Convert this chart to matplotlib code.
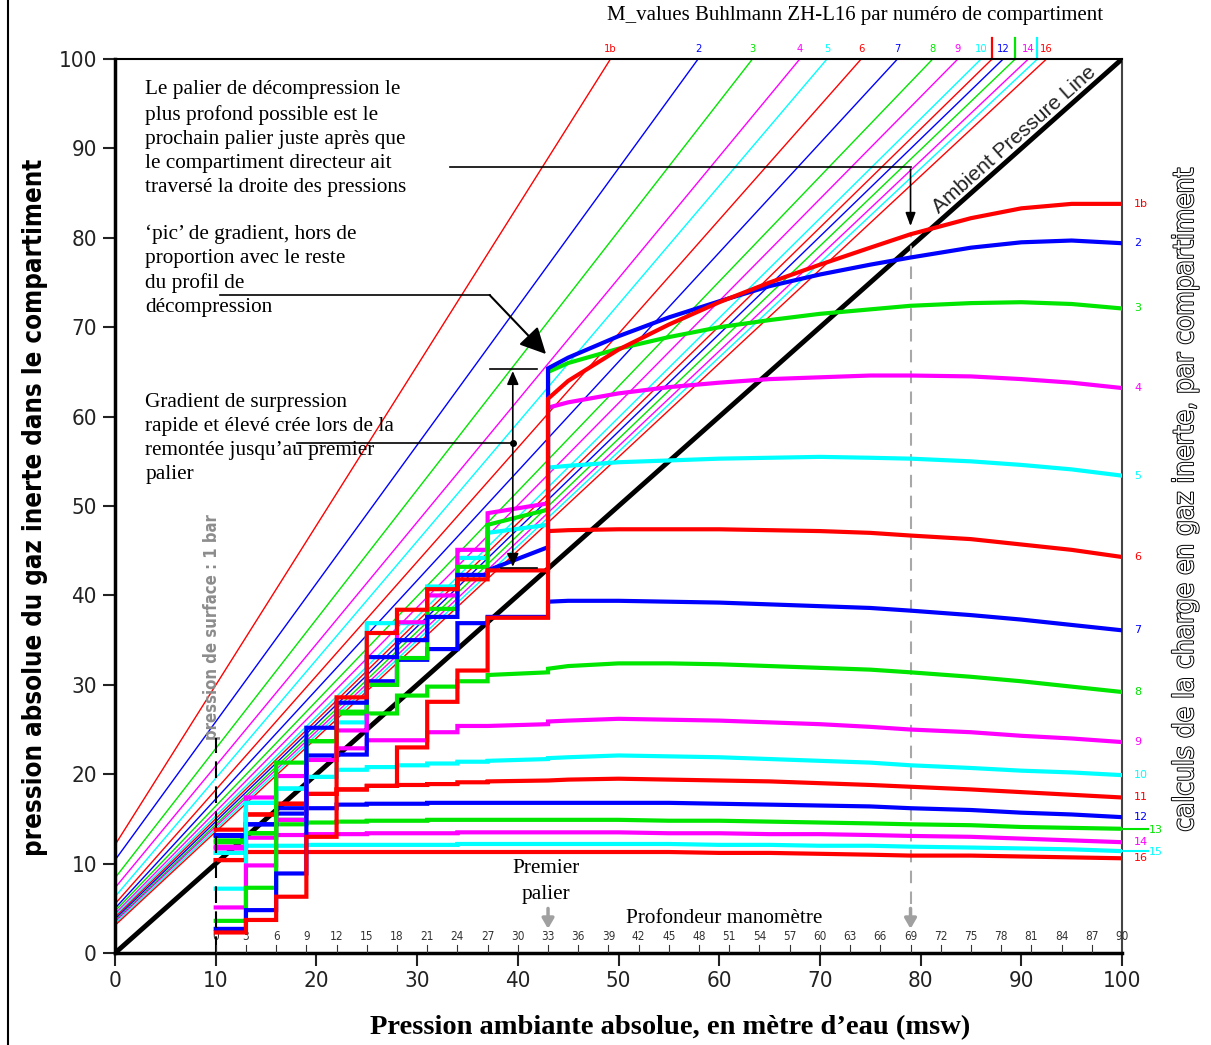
import matplotlib
matplotlib.use("Agg")
import matplotlib.pyplot as plt
from matplotlib import patheffects as pe
from matplotlib.lines import Line2D

plt.rcParams['font.family'] = ['Liberation Serif', 'DejaVu Serif']
NARROW = ['DejaVu Sans']

# Compartments (Buhlmann ZH-L16)
compartments = ['1b', '2', '3', '4', '5', '6', '7', '8', '9', '10', '11', '12', '13', '14', '15', '16']
RED, BLUE, GREEN, MAG, CYAN = '#ff0000', '#0000ff', '#00e600', '#ff00ff', '#00ffff'
colours = [RED, BLUE, GREEN, MAG, CYAN] * 3 + [RED]

# M-value lines: value at ambient 0 and ambient where they reach 100
m_intercept = [12.1, 10.4, 8.4, 7.3, 6.3, 5.5, 5.0, 4.7, 4.4, 4.2, 4.0, 3.8, 3.6, 3.5, 3.3, 3.1]
m_top_x = [49.2, 57.9, 63.3, 68.0, 70.7, 74.1, 77.7, 81.2, 83.7, 86.0, 87.1, 88.2, 89.4, 90.7, 91.6, 92.5]
# at the top these get a short coloured mark instead of a number
top_mark_only = ['11', '13', '15']

# decompression stops (ambient pressure, msw): segment boundaries
stop_x = [10, 13, 16, 19, 22, 25, 28, 31, 34, 37, 43]
# tissue level on each segment, from [10,13] to [37,43]
stair_levels = {
    '1b': [2.3, 3.7, 6.3, 13.0, 28.6, 35.8, 38.4, 40.7, 41.8, 42.8],
    '2':  [2.7, 4.8, 8.9, 25.2, 28.0, 33.1, 35.0, 37.6, 42.3, 42.8],
    '3':  [3.6, 7.3, 21.3, 23.7, 27.0, 30.0, 33.0, 38.5, 43.2, 47.9],
    '4':  [5.1, 9.8, 14.9, 21.6, 24.9, 30.0, 37.0, 40.0, 45.1, 49.2],
    '5':  [7.2, 16.8, 18.4, 19.7, 25.8, 36.9, 36.9, 41.0, 44.2, 47.0],
    '6':  [10.4, 15.5, 16.7, 17.8, 18.3, 18.7, 23.0, 28.1, 31.6, 37.5],
    '7':  [13.1, 14.4, 16.2, 22.1, 22.2, 30.4, 32.8, 34.0, 36.9, 37.6],
    '8':  [12.4, 13.4, 14.9, 23.7, 26.8, 26.8, 28.8, 29.8, 30.4, 31.1],
    '9':  [11.7, 17.4, 19.8, 21.6, 22.9, 23.8, 23.8, 24.7, 25.4, 25.4],
    '10': [11.2, 16.8, 18.4, 19.7, 20.5, 20.8, 21.0, 21.2, 21.4, 21.5],
    '11': [13.8, 15.5, 16.7, 17.8, 18.3, 18.7, 18.8, 18.9, 19.1, 19.2],
    '12': [13.2, 14.4, 15.6, 16.2, 16.6, 16.7, 16.7, 16.8, 16.8, 16.8],
    '13': [12.6, 13.4, 14.4, 14.6, 14.7, 14.8, 14.8, 14.9, 14.9, 14.9],
    '14': [11.9, 12.9, 13.2, 13.3, 13.3, 13.4, 13.4, 13.4, 13.5, 13.5],
    '15': [11.2, 12.0, 12.0, 12.1, 12.1, 12.1, 12.1, 12.1, 12.2, 12.2],
    '16': [10.4, 11.3, 11.3, 11.3, 11.3, 11.3, 11.3, 11.3, 11.3, 11.3],
}
# value at the right end of the [37,43] segment
stair_end = [42.8, 45.4, 49.6, 50.3, 47.9, 37.5, 37.6, 31.4, 25.6, 21.7, 19.3, 16.8, 14.9, 13.5, 12.2, 11.3]

# curves from the first stop out to 100 msw
curve_x = [43, 45, 50, 55, 60, 65, 70, 75, 79, 85, 90, 95, 100]
curve_y = {
    '1b': [62.0, 64.0, 67.5, 70.3, 72.8, 75.0, 77.0, 78.9, 80.4, 82.2, 83.3, 83.8, 83.8],
    '2':  [65.4, 66.6, 69.0, 71.1, 72.9, 74.6, 75.9, 77.0, 77.8, 78.9, 79.5, 79.7, 79.4],
    '3':  [65.0, 66.0, 67.6, 68.9, 70.0, 70.8, 71.5, 72.0, 72.4, 72.7, 72.8, 72.6, 72.1],
    '4':  [61.0, 61.6, 62.6, 63.3, 63.8, 64.2, 64.4, 64.6, 64.6, 64.5, 64.2, 63.8, 63.2],
    '5':  [54.3, 54.5, 54.9, 55.1, 55.3, 55.4, 55.5, 55.4, 55.3, 55.0, 54.6, 54.1, 53.4],
    '6':  [47.2, 47.3, 47.4, 47.4, 47.4, 47.3, 47.2, 47.0, 46.7, 46.3, 45.7, 45.1, 44.3],
    '7':  [39.3, 39.4, 39.4, 39.3, 39.2, 39.0, 38.8, 38.6, 38.3, 37.8, 37.3, 36.7, 36.1],
    '8':  [31.8, 32.1, 32.4, 32.4, 32.3, 32.1, 31.9, 31.7, 31.4, 30.9, 30.4, 29.8, 29.2],
    '9':  [25.9, 26.0, 26.2, 26.1, 26.0, 25.8, 25.6, 25.3, 25.0, 24.7, 24.3, 24.0, 23.6],
    '10': [21.8, 21.9, 22.1, 22.0, 21.9, 21.7, 21.5, 21.3, 21.0, 20.7, 20.4, 20.2, 19.9],
    '11': [19.3, 19.4, 19.5, 19.4, 19.3, 19.2, 19.0, 18.8, 18.6, 18.3, 18.0, 17.7, 17.4],
    '12': [16.8, 16.8, 16.8, 16.8, 16.7, 16.6, 16.5, 16.4, 16.2, 16.0, 15.7, 15.5, 15.2],
    '13': [14.9, 14.9, 14.9, 14.8, 14.8, 14.7, 14.6, 14.5, 14.4, 14.3, 14.1, 14.0, 13.9],
    '14': [13.5, 13.5, 13.5, 13.4, 13.4, 13.3, 13.3, 13.2, 13.1, 13.0, 12.8, 12.6, 12.4],
    '15': [12.2, 12.2, 12.2, 12.2, 12.1, 12.1, 12.0, 12.0, 11.9, 11.8, 11.7, 11.6, 11.4],
    '16': [11.3, 11.3, 11.3, 11.3, 11.2, 11.2, 11.1, 11.0, 10.9, 10.9, 10.8, 10.7, 10.6],
}
# compartments whose line runs past the frame (label pushed out)
extended = ['13', '15']

depth_ticks = list(range(0, 91, 3))
axis_ticks = list(range(0, 101, 10))

fig = plt.figure(figsize=(12.11, 10.45), dpi=100)
ax = fig.add_axes([0.095, 0.088, 0.8315, 0.8555])
ax.set_xlim(0, 100)
ax.set_ylim(0, 100)

# M-value lines
for name, a, xt, col in zip(compartments, m_intercept, m_top_x, colours):
    ax.plot([0, xt], [a, 100], color=col, lw=1.0, zorder=2)
    if name in top_mark_only:
        ax.plot([xt, xt], [100, 102.4], color=col, lw=1.6, clip_on=False, zorder=2)
    else:
        ax.text(xt, 100.6, name, color=col, fontsize=8, ha='center', va='bottom',
                family=NARROW, fontstretch='condensed', clip_on=False)

# ambient pressure line
ax.plot([0, 100], [0, 100], color='black', lw=3.5, zorder=3)
ax.text(89.3, 91.0, 'Ambient Pressure Line', rotation=41.6, fontsize=15,
        family=['Liberation Sans', 'DejaVu Sans'], color='#222222',
        ha='center', va='center', rotation_mode='anchor')

# tissue loading: staircase + curve
for i, name in enumerate(compartments):
    lv = stair_levels[name]
    xs, ys = [], []
    for k in range(9):
        xs += [stop_x[k], stop_x[k + 1]]
        ys += [lv[k], lv[k]]
    xs += [stop_x[9], stop_x[10]]
    ys += [lv[9], stair_end[i]]
    xs += curve_x
    ys += curve_y[name]
    ax.plot(xs, ys, color=colours[i], lw=3.0, zorder=4 + (16 - i) * 0.01,
            solid_joinstyle='miter')
    if name in extended:
        ax.plot([100, 102.6], [curve_y[name][-1]] * 2, color=colours[i], lw=1.5,
                clip_on=False, zorder=4)
        ax.text(102.7, curve_y[name][-1] - 0.1, name, color=colours[i], fontsize=8,
                va='center', ha='left', family=NARROW, clip_on=False)
    else:
        ax.text(101.2, curve_y[name][-1], name, color=colours[i], fontsize=8,
                va='center', ha='left', family=NARROW, clip_on=False)

# surface pressure (dashed)
ax.plot([10, 10], [0, 24], color='black', lw=1.5, ls=(0, (8, 4)), zorder=5)
ax.text(9.6, 36.5, 'pression de surface : 1 bar', rotation=90, color='#8c8c8c',
        fontsize=12, fontweight='bold', family=NARROW, fontstretch='condensed',
        ha='center', va='center')

# depth gauge scale
for d in depth_ticks:
    ax.plot([10 + d, 10 + d], [0, 0.9], color='#333333', lw=0.8, zorder=5)
    ax.text(10 + d, 1.1, str(d), fontsize=8.5, family=NARROW, fontstretch='condensed',
            color='#333333', ha='center', va='bottom')
ax.text(60.5, 3.9, 'Profondeur manomètre', fontsize=15.3, ha='center', va='center')
ax.text(42.8, 8.0, 'Premier\npalier', fontsize=15.3, ha='center', va='center',
        linespacing=1.5)

# grey arrows (first stop / deepest stop)
for xa in [43, 79]:
    ax.annotate('', xy=(xa, 2.4), xytext=(xa, 5.3),
                arrowprops=dict(arrowstyle='-|>,head_length=0.6,head_width=0.35',
                                color='#a0a0a0', lw=2.5))
ax.plot([79, 79], [5.5, 80.6], color='#a8a8a8', lw=1.5, ls=(0, (6, 4)), zorder=3)

# annotation 1: deepest possible stop
ax.text(3.0, 97.6, "Le palier de décompression le\nplus profond possible est le\n"
        "prochain palier juste après que\nle compartiment directeur ait\n"
        "traversé la droite des pressions", fontsize=15.3, va='top', ha='left',
        linespacing=1.36)
ax.plot([33.3, 79.0], [87.9, 87.9], color='black', lw=1.2, zorder=6)
ax.annotate('', xy=(79.0, 81.0), xytext=(79.0, 88.0),
            arrowprops=dict(arrowstyle='-|>,head_length=0.8,head_width=0.3',
                            color='black', lw=1.2), zorder=6)

# annotation 2: gradient peak
ax.text(3.0, 81.5, "‘pic’ de gradient, hors de\nproportion avec le reste\n"
        "du profil de\ndécompression", fontsize=15.3, va='top', ha='left',
        linespacing=1.36)
ax.plot([10.4, 37.2], [73.6, 73.6], color='black', lw=1.2, zorder=6)
ax.annotate('', xy=(42.8, 67.0), xytext=(37.2, 73.6),
            arrowprops=dict(arrowstyle='-|>,head_length=1.6,head_width=0.8',
                            color='black', lw=1.5, shrinkA=0, shrinkB=0), zorder=6)

# annotation 3: fast overpressure gradient
ax.text(3.0, 62.7, "Gradient de surpression\nrapide et élevé crée lors de la\n"
        "remontée jusqu’au premier\npalier", fontsize=15.3, va='top', ha='left',
        linespacing=1.36)
ax.plot([18.1, 39.5], [57.0, 57.0], color='black', lw=1.2, zorder=6)
ax.plot([39.5], [57.0], 'o', color='black', ms=4, zorder=6)
ax.annotate('', xy=(39.5, 65.1), xytext=(39.5, 57.0),
            arrowprops=dict(arrowstyle='-|>,head_length=0.8,head_width=0.35',
                            color='black', lw=1.2, shrinkA=0, shrinkB=0), zorder=6)
ax.annotate('', xy=(39.5, 43.2), xytext=(39.5, 57.0),
            arrowprops=dict(arrowstyle='-|>,head_length=0.8,head_width=0.35',
                            color='black', lw=1.2, shrinkA=0, shrinkB=0), zorder=6)
ax.plot([37.2, 41.9], [65.3, 65.3], color='black', lw=1.2, zorder=6)
ax.plot([38.3, 41.9], [43.1, 43.1], color='black', lw=1.2, zorder=6)

# frame and ticks
for side in ['left', 'bottom']:
    ax.spines[side].set_linewidth(2.5)
ax.spines['top'].set_linewidth(1.5)
ax.spines['right'].set_linewidth(1.5)
ax.spines['right'].set_color('#444444')
ax.set_xticks(axis_ticks)
ax.set_yticks(axis_ticks)
ax.tick_params(direction='out', length=9, width=1.5, labelsize=16, colors='#222222',
               pad=4)
for lab in ax.get_xticklabels() + ax.get_yticklabels():
    lab.set_family(NARROW)
    lab.set_fontstretch('condensed')

# axis titles and side labels
fig.text(0.553, 0.0163, 'Pression ambiante absolue, en mètre d’eau (msw)',
         fontsize=20.5, fontweight='bold', ha='center', va='center')
fig.text(0.706, 0.985, 'M_values Buhlmann ZH-L16 par numéro de compartiment',
         fontsize=15, ha='center', va='center')
fig.text(0.029, 0.514, 'pression absolue du gaz inerte dans le compartiment',
         rotation=90, fontsize=18.5, fontweight='bold', family=NARROW,
         fontstretch='condensed', ha='center', va='center')
fig.text(0.9785, 0.5215, 'calculs de la charge en gaz inerte, par compartiment',
         rotation=90, fontsize=20, family=NARROW, fontstretch='condensed',
         color='white', ha='center', va='center',
         path_effects=[pe.withStroke(linewidth=1.4, foreground='black')])
fig.add_artist(Line2D([0.0066, 0.0066], [0, 1], transform=fig.transFigure,
                      color='black', lw=1.5))

fig.savefig('out.png', dpi=100)
